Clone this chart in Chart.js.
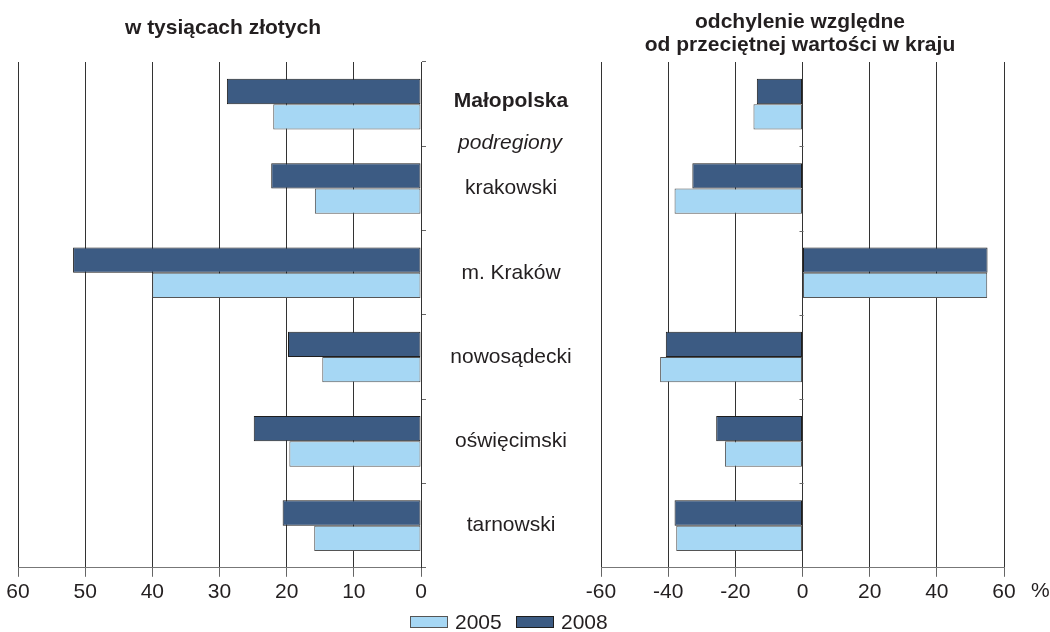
<!DOCTYPE html>
<html>
<head>
<meta charset="utf-8">
<script src="https://cdn.jsdelivr.net/npm/chart.js@4.4.1/dist/chart.umd.min.js"></script>
<style>
  body { margin: 0; background: #fff; }
  #wrap { position: relative; width: 1050px; height: 632px; }
  canvas { position: absolute; left: 0; top: 0; }
</style>
</head>
<body>
<div id="wrap">
  <canvas id="left" width="1050" height="632"></canvas>
  <canvas id="right" width="1050" height="632"></canvas>
</div>
<script>
// data
var regions = ['Małopolska', 'krakowski', 'm. Kraków', 'nowosądecki', 'oświęcimski', 'tarnowski'];
var subLabel = 'podregiony';
var years = ['2005', '2008'];
var thous2005 = [22, 15.8, 40, 14.7, 19.6, 15.9];
var thous2008 = [28.9, 22.3, 51.8, 19.8, 24.9, 20.6];
var dev2005 = [-14.6, -38.1, 55, -42.4, -23.1, -37.6];
var dev2008 = [-13.6, -32.8, 55.1, -40.7, -25.7, -38.1];
var leftTicks = [0, 10, 20, 30, 40, 50, 60];
var rightTicks = [-60, -40, -20, 0, 20, 40, 60];
var leftTitle = 'w tysiącach złotych';
var rightTitle = ['odchylenie względne', 'od przeciętnej wartości w kraju'];

var FONT = '"Liberation Sans", Arial, sans-serif';
var TXT = '#231f20';
var light = '#a6d7f4';
var dark = '#3c5b83';

function makeSets(v2005, v2008) {
  return [
    { label: years[1], data: v2008, backgroundColor: dark, borderColor: '#1e1e1e', borderWidth: 1, borderSkipped: false,
      categoryPercentage: 0.6, barPercentage: 1.0 },
    { label: years[0], data: v2005, backgroundColor: light, borderColor: '#555', borderWidth: 1, borderSkipped: false,
      categoryPercentage: 0.6, barPercentage: 1.0 }
  ];
}

function xAxis(ticks, extra) {
  var ax = {
    min: ticks[0] < 0 ? ticks[0] : 0,
    max: ticks[ticks.length - 1],
    afterBuildTicks: function(s) { s.ticks = ticks.map(function(v) { return { value: v }; }); },
    grid: { color: '#333', tickLength: 9, tickColor: '#666' },
    border: { color: '#777' },
    ticks: { font: { size: 21, family: FONT }, color: TXT, padding: 3, maxRotation: 0 }
  };
  return Object.assign(ax, extra || {});
}

var leftDeco = {
  id: 'leftDeco',
  afterDraw: function(chart) {
    var ctx = chart.ctx, y = chart.scales.y;
    ctx.save();
    ctx.fillStyle = TXT;
    ctx.textAlign = 'center';
    ctx.textBaseline = 'middle';
    ctx.font = 'bold 21px ' + FONT;
    ctx.fillText(leftTitle, 223, 28);
    for (var i = 0; i < regions.length; i++) {
      ctx.font = (i === 0 ? 'bold ' : '') + '21px ' + FONT;
      ctx.fillText(regions[i], 511, y.getPixelForTick(i) - (i === 0 ? 3 : 0));
    }
    ctx.font = 'italic 21px ' + FONT;
    ctx.fillText(subLabel, 510, (y.getPixelForTick(0) + y.getPixelForTick(1)) / 2 - 3);
    ctx.restore();
  }
};

var rightDeco = {
  id: 'rightDeco',
  afterDraw: function(chart) {
    var ctx = chart.ctx, a = chart.chartArea, y = chart.scales.y, x = chart.scales.x;
    ctx.save();
    // small ticks on the zero line
    var x0 = Math.round(x.getPixelForValue(0)) + 0.5;
    ctx.strokeStyle = '#666';
    ctx.lineWidth = 1;
    for (var i = 0; i < regions.length - 1; i++) {
      var yy = Math.round((y.getPixelForTick(i) + y.getPixelForTick(i + 1)) / 2) + 0.5;
      ctx.beginPath(); ctx.moveTo(x0 - 4, yy); ctx.lineTo(x0, yy); ctx.stroke();
    }
    ctx.fillStyle = TXT;
    ctx.textAlign = 'center';
    ctx.textBaseline = 'middle';
    ctx.font = 'bold 21px ' + FONT;
    ctx.fillText(rightTitle[0], 800, 22);
    ctx.fillText(rightTitle[1], 800, 45);
    ctx.font = '21px ' + FONT;
    ctx.textAlign = 'left';
    ctx.fillText('%', a.right + 27, 591);
    // legend
    var items = [[years[0], light, '#555', 410], [years[1], dark, '#1e1e1e', 516]];
    items.forEach(function(it) {
      ctx.fillStyle = it[1];
      ctx.fillRect(it[3], 616, 38, 12);
      ctx.strokeStyle = it[2];
      ctx.strokeRect(it[3] + 0.5, 616.5, 37, 11);
      ctx.fillStyle = TXT;
      ctx.fillText(it[0], it[3] + 45, 623);
    });
    ctx.restore();
  }
};

new Chart('left', {
  type: 'bar',
  data: { labels: regions, datasets: makeSets(thous2005, thous2008) },
  options: {
    indexAxis: 'y',
    responsive: false,
    animation: false,
    layout: { padding: { left: 18, right: 624, top: 62, bottom: 24 } },
    scales: {
      x: xAxis(leftTicks, { reverse: true }),
      y: {
        position: 'right',
        ticks: { display: false },
        grid: { drawOnChartArea: false, tickLength: 5, color: '#666' },
        border: { display: true, color: '#333' }
      }
    },
    plugins: { legend: { display: false }, tooltip: { enabled: false } }
  },
  plugins: [leftDeco]
});

new Chart('right', {
  type: 'bar',
  data: { labels: regions, datasets: makeSets(dev2005, dev2008) },
  options: {
    indexAxis: 'y',
    responsive: false,
    animation: false,
    layout: { padding: { left: 601, right: 46, top: 62, bottom: 24 } },
    scales: {
      x: xAxis(rightTicks),
      y: { display: false }
    },
    plugins: { legend: { display: false }, tooltip: { enabled: false } }
  },
  plugins: [rightDeco]
});
</script>
</body>
</html>
